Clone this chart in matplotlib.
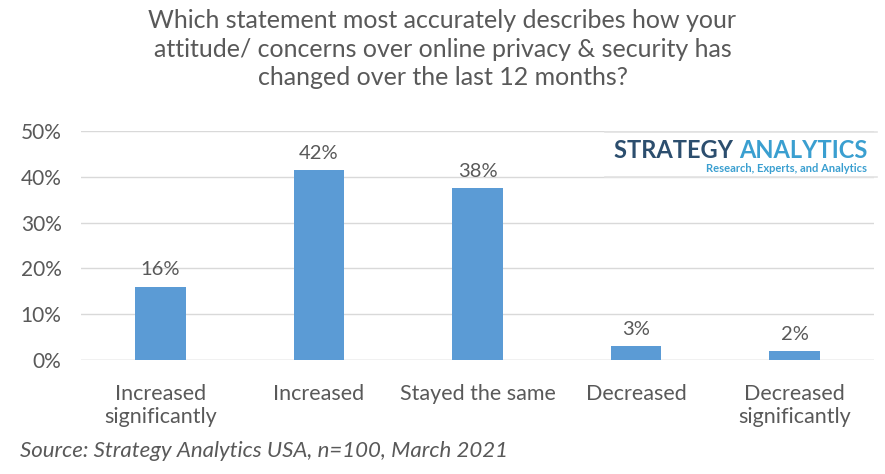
import matplotlib.pyplot as plt
from matplotlib.ticker import PercentFormatter

# data
categories = ['Increased\nsignificantly', 'Increased', 'Stayed the same',
              'Decreased', 'Decreased\nsignificantly']
values = [16, 41.5, 37.5, 3, 2]
labels = ['16%', '42%', '38%', '3%', '2%']
yticks = [0, 10, 20, 30, 40, 50]

grey = '#595959'
plt.rcParams['font.family'] = ['Lato', 'DejaVu Sans']

fig = plt.figure(figsize=(8.85, 4.74), dpi=100)
ax = fig.add_axes([81 / 885, 1 - 360 / 474, 793 / 885, 229 / 474])

x = range(len(categories))
ax.bar(x, values, width=0.32, color='#5b9bd5', zorder=3)
for xi, v, lab in zip(x, values, labels):
    ax.text(xi, v + 1.8, lab, ha='center', va='bottom', fontsize=14.5, color=grey)

ax.set_xlim(-0.5, len(categories) - 0.5)
ax.set_ylim(0, 50)
ax.set_yticks(yticks)
ax.yaxis.set_major_formatter(PercentFormatter(decimals=0))
ax.set_xticks(list(x))
ax.set_xticklabels(categories, fontsize=15.5, color=grey, linespacing=1.2)
ax.tick_params(axis='y', labelsize=15, labelcolor=grey, length=0, pad=14)
ax.tick_params(axis='x', length=0, pad=17)
ax.grid(axis='y', color='#d9d9d9', linewidth=1, zorder=0)
for s in ax.spines.values():
    s.set_visible(False)
ax.axhline(0, color='#d9d9d9', linewidth=1, zorder=2)

fig.text(0.5, 1 - 9 / 474,
         'Which statement most accurately describes how your\n'
         'attitude/ concerns over online privacy & security has\n'
         'changed over the last 12 months?',
         ha='center', va='top', fontsize=18, color=grey, linespacing=1.3)

fig.text(20 / 885, 1 - 451 / 474, 'Source: Strategy Analytics USA, n=100, March 2021',
         ha='left', va='center', fontsize=16, color=grey, style='italic')

# logo
fig.add_artist(plt.Line2D([605 / 885, 877 / 885], [1 - 132 / 474] * 2,
                          color='#e3e3e3', linewidth=1.2))
fig.add_artist(plt.Line2D([605 / 885, 877 / 885], [1 - 177 / 474] * 2,
                          color='#e3e3e3', linewidth=1.2))
t1 = fig.text(614 / 885, 1 - 151 / 474, 'STRATEGY ', ha='left', va='center',
              fontsize=17, fontweight='bold', color='#2c4e6e')
fig.canvas.draw()
bb = t1.get_window_extent()
fig.text(bb.x1 / 885, 1 - 151 / 474, 'ANALYTICS', ha='left', va='center',
         fontsize=17, fontweight='bold', color='#3a9fd0')
fig.text(867 / 885, 1 - 168 / 474, 'Research, Experts, and Analytics',
         ha='right', va='center', fontsize=8, fontweight='bold', color='#3a9fd0')

fig.savefig('out.png', dpi=100)
